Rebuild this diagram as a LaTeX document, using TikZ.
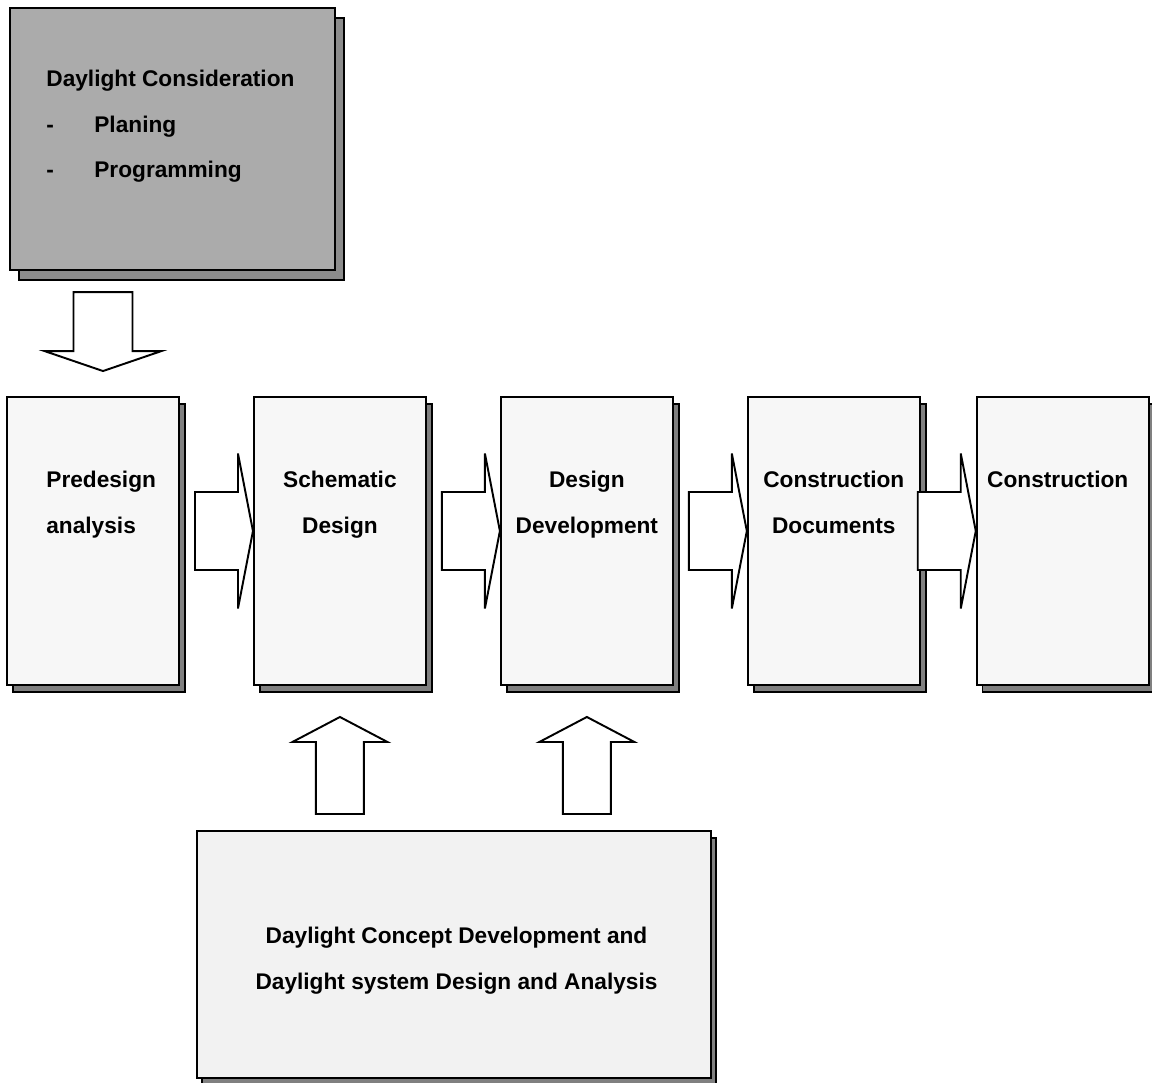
\documentclass[tikz,border=0pt]{standalone}
\usepackage{fontspec}
\setmainfont{Liberation Sans}
\usetikzlibrary{positioning,calc,shadows}

\begin{document}
\begin{tikzpicture}[
    node distance=1.46cm,
    stage/.style={draw, line width=1.1pt, fill=black!3, minimum width=3.44cm, minimum height=5.76cm,
                  inner sep=0pt,
                  copy shadow={shadow xshift=0.12cm, shadow yshift=-0.14cm, fill=black!50, draw=black, line width=0.8pt}},
    consid/.style={draw, line width=1.1pt, fill=black!33, minimum width=6.5cm, minimum height=5.24cm,
                  copy shadow={shadow xshift=0.18cm, shadow yshift=-0.2cm, fill=black!45, draw=black, line width=0.8pt}},
    devbox/.style={draw, line width=1.1pt, fill=black!5, minimum width=10.28cm, minimum height=4.94cm,
                  copy shadow={shadow xshift=0.1cm, shadow yshift=-0.14cm, fill=black!50, draw=black, line width=0.8pt}},
    lbl/.style={font=\fontsize{12.9}{26}\selectfont\bfseries, inner sep=0pt, align=center},
    blk/.style={draw, line width=1.1pt, fill=white, line join=miter},
  ]
  \useasboundingbox (0,0) rectangle (23.04,-21.64);

  % design phases
  \node[stage]                   (pre) at (1.86,-10.82) {};
  \node[stage, right=of pre]     (sch) {};
  \node[stage, right=of sch]     (dd)  {};
  \node[stage, right=of dd]      (cd)  {};
  \node[stage, right=1.1cm of cd] (con) {};

  \node[lbl, anchor=north west, align=left] (tpre) at ($(pre.north west)+(0.8,-1.5)$) {Predesign\\analysis};
  \node[lbl, anchor=north] (tsch) at ($(sch.north)+(0,-1.5)$) {Schematic\\Design};
  \node[lbl, anchor=north] (tdd)  at ($(dd.north)+(0,-1.5)$)  {Design\\Development};
  \node[lbl, anchor=north] (tcd)  at ($(cd.north)+(0,-1.5)$)  {Construction\\Documents};
  \node[lbl, anchor=north] (tcon) at ($(con.north)+(-0.1,-1.5)$) {Construction};

  % daylight boxes
  \node[consid] (dc)  at (3.45,-2.78) {};
  \node[lbl, anchor=north west, align=left] (tdc) at ($(dc.north west)+(0.74,-1.25)$)
       {Daylight Consideration\\\makebox[0.96cm][l]{-}Planing\\\makebox[0.96cm][l]{-}Programming};
  \node[devbox] (dev) at (9.08,-19.09) {};
  \node[lbl, anchor=north] (tdev) at ($(dev.north)+(0.05,-1.94)$)
       {Daylight Concept Development and\\Daylight system Design and Analysis};

  % block arrows
  \draw[blk] ($(pre.north)+(0.2,0.5)$) -- ++(1.17,0.4) -- ++(-0.58,0) -- ++(0,1.18)
             -- ++(-1.18,0) -- ++(0,-1.18) -- ++(-0.58,0) -- cycle;
  \foreach \t in {sch,dd,cd,con}
    \draw[blk] ($(\t.west)+(0,0.2)$) -- ++(-0.3,1.55) -- ++(0,-0.77) -- ++(-0.86,0)
               -- ++(0,-1.56) -- ++(0.86,0) -- ++(0,-0.77) -- cycle;
  \foreach \t in {sch,dd}
    \draw[blk] ($(\t.south)+(0,-0.62)$) -- ++(0.95,-0.5) -- ++(-0.47,0) -- ++(0,-1.44)
               -- ++(-0.96,0) -- ++(0,1.44) -- ++(-0.47,0) -- cycle;
\end{tikzpicture}
\end{document}
